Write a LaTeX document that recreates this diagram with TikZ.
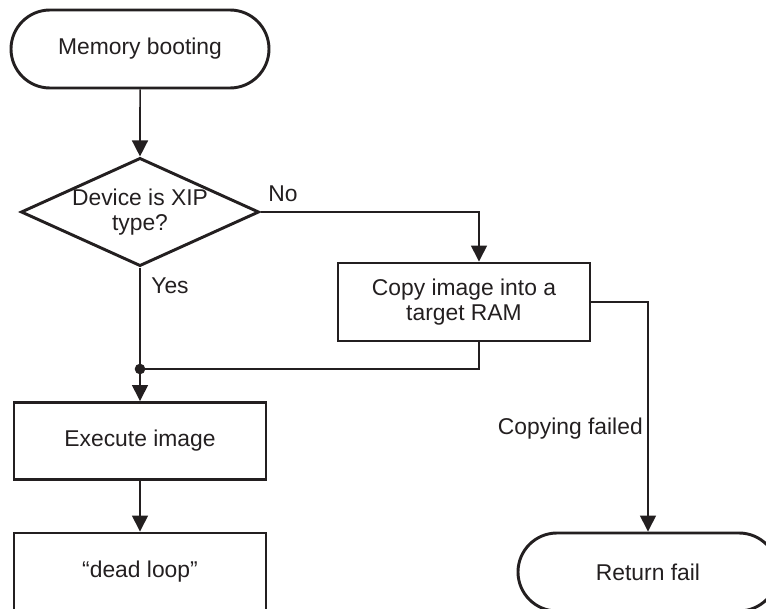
\documentclass[tikz,border=0pt]{standalone}
\usepackage{fontspec}
\setmainfont{Liberation Sans}
\usetikzlibrary{arrows.meta,shapes.geometric,shapes.misc}
\definecolor{ink}{HTML}{231F20}
\newcommand{\txt}{\fontsize{19.5}{21.5}\selectfont}
\tikzset{kasten/.style={draw=ink,line width=2.5pt,text=ink,font=\txt,
    minimum width=75.6mm,minimum height=23.1mm,align=center,inner sep=0},
  endfeld/.style={kasten,rounded rectangle,minimum height=23.4mm},
  raute/.style={kasten,diamond,aspect=2.2,minimum width=70.2mm,minimum height=31.8mm},
  pfeil/.style={ink,line width=1.3pt,-{Triangle[length=4.8mm,width=4.8mm]}},
  linie/.style={ink,line width=1.3pt},
  marke/.style={text=ink,font=\txt,inner sep=0}}

\begin{document}
\begin{tikzpicture}[x=0.3mm,y=0.3mm]
\path[use as bounding box,clip] (0,0) rectangle (766,608);
\node[endfeld,minimum width=77.4mm] (boot) at (140,559) {Memory booting};
\node[raute] (xip) at (140,396) {Device is XIP\\type?};
\node[kasten,minimum height=23.4mm] (copy) at (464,306) {Copy image into a\\target RAM};
\node[kasten] (exec) at (140,167) {Execute image};
\node[kasten] (dead) at (140,36.5) {“dead loop”};
\node[endfeld,minimum width=78mm] (fail) at (648,36) {Return fail};
\coordinate (knoten) at (140,239);
\coordinate (nein) at ([xshift=4.5mm]copy.north);
\coordinate (zurueck) at ([xshift=4.5mm]copy.south);
\draw[pfeil] (boot) -- (xip);
\draw[pfeil] (xip.east) -| (nein);
\draw[linie] (xip.south) -- (knoten);
\draw[pfeil] (knoten) -- (exec);
\draw[linie] (zurueck) |- (knoten);
\draw[pfeil] (copy.east) -| (fail.north);
\draw[pfeil] (exec) -- (dead);
\fill[ink] (knoten) circle (5.3);
\node[marke] (nolbl) at (283,414) {No};
\node[marke] (yeslbl) at (170,322) {Yes};
\node[marke,anchor=east] (faillbl) at (643,179) {Copying failed};
\end{tikzpicture}
\end{document}
